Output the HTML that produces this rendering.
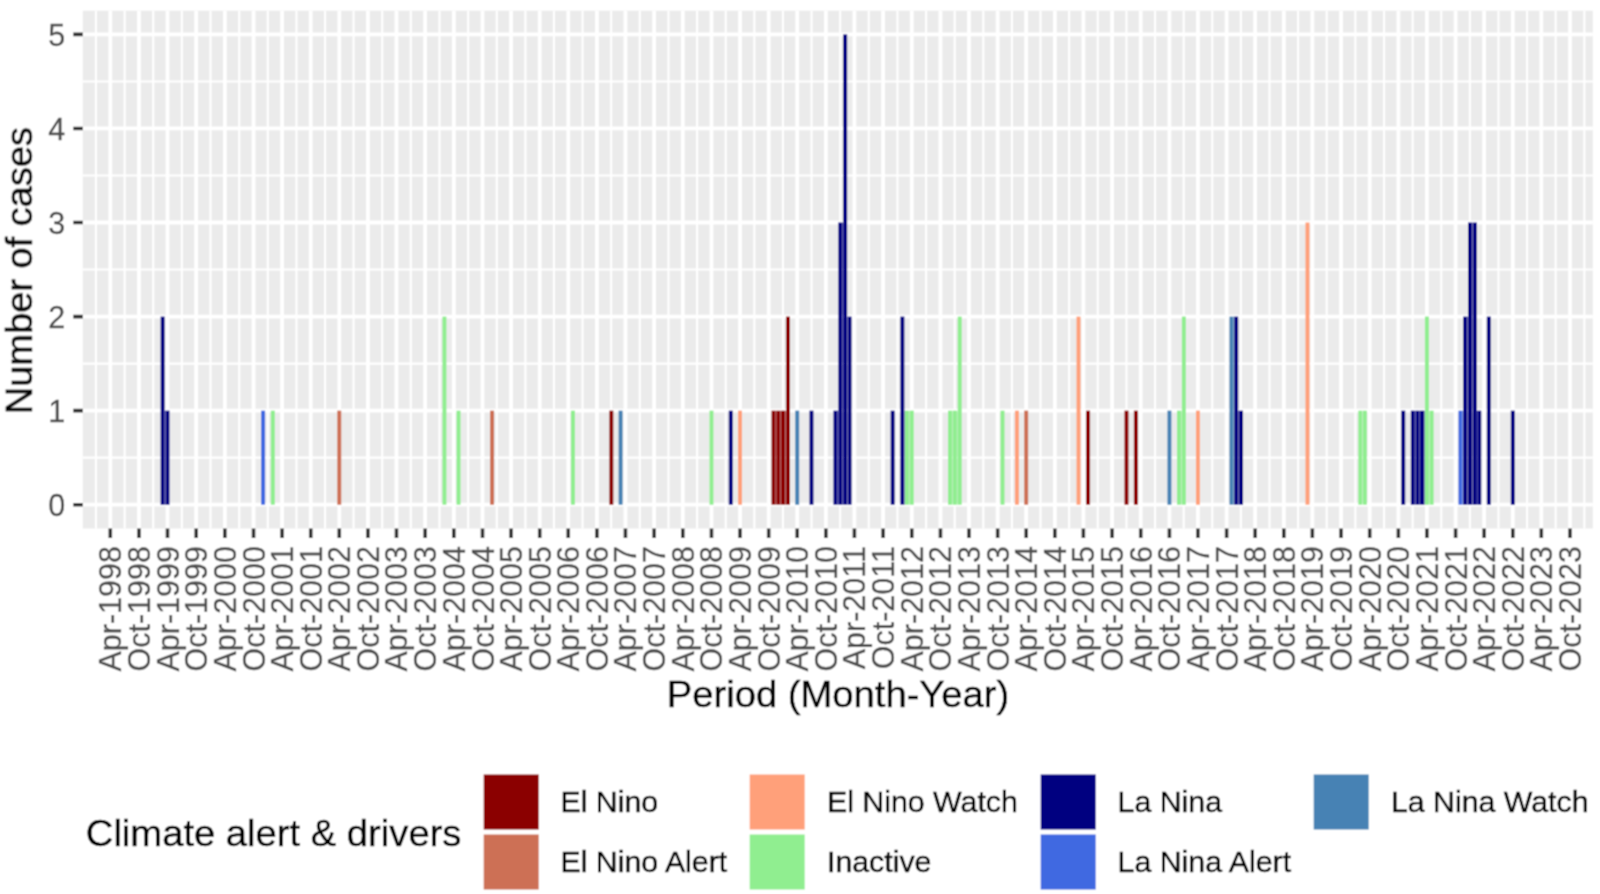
<!DOCTYPE html><html><head><meta charset="utf-8"><style>html,body{margin:0;padding:0;background:#fff;width:1600px;height:894px;overflow:hidden}svg{display:block}text{font-family:"Liberation Sans",sans-serif}</style></head><body>
<svg width="1600" height="894" viewBox="0 0 1600 894">
<defs><filter id="bl" x="0" y="0" width="1600" height="894" filterUnits="userSpaceOnUse"><feConvolveMatrix order="3" kernelMatrix="1 2 1 2 4 2 1 2 1" divisor="16" edgeMode="duplicate"/></filter></defs><g filter="url(#bl)">
<rect x="0" y="0" width="1600" height="894" fill="#fff"/>
<rect x="82.8" y="10.7" width="1510.00" height="517.80" fill="#EBEBEB"/>
<path d="M82.8 457.67H1592.8M82.8 363.61H1592.8M82.8 269.55H1592.8M82.8 175.49H1592.8M82.8 81.43H1592.8M95.96 10.7V528.5M124.64 10.7V528.5M153.24 10.7V528.5M181.84 10.7V528.5M210.52 10.7V528.5M239.20 10.7V528.5M267.80 10.7V528.5M296.41 10.7V528.5M325.01 10.7V528.5M353.61 10.7V528.5M382.21 10.7V528.5M410.81 10.7V528.5M439.49 10.7V528.5M468.17 10.7V528.5M496.77 10.7V528.5M525.38 10.7V528.5M553.98 10.7V528.5M582.58 10.7V528.5M611.18 10.7V528.5M639.78 10.7V528.5M668.46 10.7V528.5M697.14 10.7V528.5M725.74 10.7V528.5M754.35 10.7V528.5M782.95 10.7V528.5M811.55 10.7V528.5M840.15 10.7V528.5M868.75 10.7V528.5M897.43 10.7V528.5M926.11 10.7V528.5M954.71 10.7V528.5M983.31 10.7V528.5M1011.92 10.7V528.5M1040.52 10.7V528.5M1069.12 10.7V528.5M1097.72 10.7V528.5M1126.40 10.7V528.5M1155.08 10.7V528.5M1183.68 10.7V528.5M1212.28 10.7V528.5M1240.89 10.7V528.5M1269.49 10.7V528.5M1298.09 10.7V528.5M1326.69 10.7V528.5M1355.37 10.7V528.5M1384.05 10.7V528.5M1412.65 10.7V528.5M1441.25 10.7V528.5M1469.86 10.7V528.5M1498.46 10.7V528.5M1527.06 10.7V528.5M1555.66 10.7V528.5M1584.34 10.7V528.5" stroke="#fff" stroke-width="2.1" fill="none"/>
<path d="M82.8 504.70H1592.8M82.8 410.64H1592.8M82.8 316.58H1592.8M82.8 222.52H1592.8M82.8 128.46H1592.8M82.8 34.40H1592.8M110.30 10.7V528.5M138.98 10.7V528.5M167.50 10.7V528.5M196.18 10.7V528.5M224.86 10.7V528.5M253.54 10.7V528.5M282.07 10.7V528.5M310.75 10.7V528.5M339.27 10.7V528.5M367.95 10.7V528.5M396.47 10.7V528.5M425.15 10.7V528.5M453.83 10.7V528.5M482.51 10.7V528.5M511.04 10.7V528.5M539.72 10.7V528.5M568.24 10.7V528.5M596.92 10.7V528.5M625.44 10.7V528.5M654.12 10.7V528.5M682.80 10.7V528.5M711.48 10.7V528.5M740.01 10.7V528.5M768.69 10.7V528.5M797.21 10.7V528.5M825.89 10.7V528.5M854.41 10.7V528.5M883.09 10.7V528.5M911.77 10.7V528.5M940.45 10.7V528.5M968.97 10.7V528.5M997.65 10.7V528.5M1026.18 10.7V528.5M1054.86 10.7V528.5M1083.38 10.7V528.5M1112.06 10.7V528.5M1140.74 10.7V528.5M1169.42 10.7V528.5M1197.94 10.7V528.5M1226.62 10.7V528.5M1255.15 10.7V528.5M1283.83 10.7V528.5M1312.35 10.7V528.5M1341.03 10.7V528.5M1369.71 10.7V528.5M1398.39 10.7V528.5M1426.91 10.7V528.5M1455.59 10.7V528.5M1484.12 10.7V528.5M1512.80 10.7V528.5M1541.32 10.7V528.5M1570.00 10.7V528.5" stroke="#fff" stroke-width="3.8" fill="none"/>
<rect x="160.64" y="316.58" width="4.0" height="188.12" fill="#000080"/>
<rect x="164.84" y="410.64" width="0.46" height="94.06" fill="#000080"/>
<rect x="165.50" y="410.64" width="4.0" height="94.06" fill="#000080"/>
<rect x="261.10" y="410.64" width="4.0" height="94.06" fill="#4169E1"/>
<rect x="270.82" y="410.64" width="4.0" height="94.06" fill="#90EE90"/>
<rect x="337.27" y="410.64" width="4.0" height="94.06" fill="#CD7054"/>
<rect x="442.43" y="316.58" width="4.0" height="188.12" fill="#90EE90"/>
<rect x="456.53" y="410.64" width="4.0" height="94.06" fill="#90EE90"/>
<rect x="490.07" y="410.64" width="4.0" height="94.06" fill="#CD7054"/>
<rect x="570.94" y="410.64" width="4.0" height="94.06" fill="#90EE90"/>
<rect x="609.34" y="410.64" width="4.0" height="94.06" fill="#8B0000"/>
<rect x="618.58" y="410.64" width="4.0" height="94.06" fill="#4682B4"/>
<rect x="709.48" y="410.64" width="4.0" height="94.06" fill="#90EE90"/>
<rect x="728.76" y="410.64" width="4.0" height="94.06" fill="#000080"/>
<rect x="738.01" y="410.64" width="4.0" height="94.06" fill="#FFA07A"/>
<rect x="771.54" y="410.64" width="4.0" height="94.06" fill="#8B0000"/>
<rect x="775.74" y="410.64" width="0.30" height="94.06" fill="#8B0000"/>
<rect x="776.25" y="410.64" width="4.0" height="94.06" fill="#8B0000"/>
<rect x="780.45" y="410.64" width="0.46" height="94.06" fill="#8B0000"/>
<rect x="781.10" y="410.64" width="4.0" height="94.06" fill="#8B0000"/>
<rect x="785.30" y="410.64" width="0.46" height="94.06" fill="#8B0000"/>
<rect x="785.96" y="316.58" width="4.0" height="188.12" fill="#8B0000"/>
<rect x="795.21" y="410.64" width="4.0" height="94.06" fill="#4682B4"/>
<rect x="809.47" y="410.64" width="4.0" height="94.06" fill="#000080"/>
<rect x="833.45" y="410.64" width="4.0" height="94.06" fill="#000080"/>
<rect x="837.65" y="410.64" width="0.46" height="94.06" fill="#000080"/>
<rect x="838.31" y="222.52" width="4.0" height="282.18" fill="#000080"/>
<rect x="842.51" y="222.52" width="0.46" height="282.18" fill="#000080"/>
<rect x="843.17" y="34.40" width="4.0" height="470.30" fill="#000080"/>
<rect x="847.37" y="316.58" width="-0.01" height="188.12" fill="#000080"/>
<rect x="847.55" y="316.58" width="4.0" height="188.12" fill="#000080"/>
<rect x="890.65" y="410.64" width="4.0" height="94.06" fill="#000080"/>
<rect x="900.37" y="316.58" width="4.0" height="188.12" fill="#000080"/>
<rect x="904.57" y="410.64" width="0.14" height="94.06" fill="#000080"/>
<rect x="904.91" y="410.64" width="4.0" height="94.06" fill="#90EE90"/>
<rect x="909.11" y="410.64" width="0.46" height="94.06" fill="#90EE90"/>
<rect x="909.77" y="410.64" width="4.0" height="94.06" fill="#90EE90"/>
<rect x="948.01" y="410.64" width="4.0" height="94.06" fill="#90EE90"/>
<rect x="952.21" y="410.64" width="0.46" height="94.06" fill="#90EE90"/>
<rect x="952.87" y="410.64" width="4.0" height="94.06" fill="#90EE90"/>
<rect x="957.07" y="410.64" width="0.46" height="94.06" fill="#90EE90"/>
<rect x="957.73" y="316.58" width="4.0" height="188.12" fill="#90EE90"/>
<rect x="1000.51" y="410.64" width="4.0" height="94.06" fill="#90EE90"/>
<rect x="1014.93" y="410.64" width="4.0" height="94.06" fill="#FFA07A"/>
<rect x="1024.18" y="410.64" width="4.0" height="94.06" fill="#CD7054"/>
<rect x="1076.52" y="316.58" width="4.0" height="188.12" fill="#FFA07A"/>
<rect x="1086.08" y="410.64" width="4.0" height="94.06" fill="#8B0000"/>
<rect x="1124.48" y="410.64" width="4.0" height="94.06" fill="#8B0000"/>
<rect x="1133.88" y="410.64" width="4.0" height="94.06" fill="#8B0000"/>
<rect x="1167.42" y="410.64" width="4.0" height="94.06" fill="#4682B4"/>
<rect x="1176.98" y="410.64" width="4.0" height="94.06" fill="#90EE90"/>
<rect x="1181.18" y="410.64" width="0.46" height="94.06" fill="#90EE90"/>
<rect x="1181.84" y="316.58" width="4.0" height="188.12" fill="#90EE90"/>
<rect x="1195.94" y="410.64" width="4.0" height="94.06" fill="#FFA07A"/>
<rect x="1229.48" y="316.58" width="4.0" height="188.12" fill="#4682B4"/>
<rect x="1233.68" y="316.58" width="0.30" height="188.12" fill="#4682B4"/>
<rect x="1234.18" y="316.58" width="4.0" height="188.12" fill="#000080"/>
<rect x="1238.38" y="410.64" width="0.46" height="94.06" fill="#000080"/>
<rect x="1239.04" y="410.64" width="4.0" height="94.06" fill="#000080"/>
<rect x="1305.49" y="222.52" width="4.0" height="282.18" fill="#FFA07A"/>
<rect x="1358.31" y="410.64" width="4.0" height="94.06" fill="#90EE90"/>
<rect x="1362.51" y="410.64" width="0.14" height="94.06" fill="#90EE90"/>
<rect x="1362.85" y="410.64" width="4.0" height="94.06" fill="#90EE90"/>
<rect x="1401.25" y="410.64" width="4.0" height="94.06" fill="#000080"/>
<rect x="1410.81" y="410.64" width="4.0" height="94.06" fill="#000080"/>
<rect x="1415.01" y="410.64" width="0.46" height="94.06" fill="#000080"/>
<rect x="1415.67" y="410.64" width="4.0" height="94.06" fill="#000080"/>
<rect x="1419.87" y="410.64" width="-0.01" height="94.06" fill="#000080"/>
<rect x="1420.06" y="410.64" width="4.0" height="94.06" fill="#000080"/>
<rect x="1424.26" y="410.64" width="0.46" height="94.06" fill="#000080"/>
<rect x="1424.91" y="316.58" width="4.0" height="188.12" fill="#90EE90"/>
<rect x="1429.11" y="410.64" width="0.30" height="94.06" fill="#90EE90"/>
<rect x="1429.62" y="410.64" width="4.0" height="94.06" fill="#90EE90"/>
<rect x="1458.45" y="410.64" width="4.0" height="94.06" fill="#4169E1"/>
<rect x="1462.65" y="410.64" width="0.30" height="94.06" fill="#4169E1"/>
<rect x="1463.15" y="316.58" width="4.0" height="188.12" fill="#000080"/>
<rect x="1467.35" y="316.58" width="0.46" height="188.12" fill="#000080"/>
<rect x="1468.01" y="222.52" width="4.0" height="282.18" fill="#000080"/>
<rect x="1472.21" y="222.52" width="0.46" height="282.18" fill="#000080"/>
<rect x="1472.87" y="222.52" width="4.0" height="282.18" fill="#000080"/>
<rect x="1477.07" y="410.64" width="-0.01" height="94.06" fill="#000080"/>
<rect x="1477.26" y="410.64" width="4.0" height="94.06" fill="#000080"/>
<rect x="1486.82" y="316.58" width="4.0" height="188.12" fill="#000080"/>
<rect x="1510.80" y="410.64" width="4.0" height="94.06" fill="#000080"/>
<path d="M73.30 504.70H82.8M73.30 410.64H82.8M73.30 316.58H82.8M73.30 222.52H82.8M73.30 128.46H82.8M73.30 34.40H82.8M110.30 528.5V538.00M138.98 528.5V538.00M167.50 528.5V538.00M196.18 528.5V538.00M224.86 528.5V538.00M253.54 528.5V538.00M282.07 528.5V538.00M310.75 528.5V538.00M339.27 528.5V538.00M367.95 528.5V538.00M396.47 528.5V538.00M425.15 528.5V538.00M453.83 528.5V538.00M482.51 528.5V538.00M511.04 528.5V538.00M539.72 528.5V538.00M568.24 528.5V538.00M596.92 528.5V538.00M625.44 528.5V538.00M654.12 528.5V538.00M682.80 528.5V538.00M711.48 528.5V538.00M740.01 528.5V538.00M768.69 528.5V538.00M797.21 528.5V538.00M825.89 528.5V538.00M854.41 528.5V538.00M883.09 528.5V538.00M911.77 528.5V538.00M940.45 528.5V538.00M968.97 528.5V538.00M997.65 528.5V538.00M1026.18 528.5V538.00M1054.86 528.5V538.00M1083.38 528.5V538.00M1112.06 528.5V538.00M1140.74 528.5V538.00M1169.42 528.5V538.00M1197.94 528.5V538.00M1226.62 528.5V538.00M1255.15 528.5V538.00M1283.83 528.5V538.00M1312.35 528.5V538.00M1341.03 528.5V538.00M1369.71 528.5V538.00M1398.39 528.5V538.00M1426.91 528.5V538.00M1455.59 528.5V538.00M1484.12 528.5V538.00M1512.80 528.5V538.00M1541.32 528.5V538.00M1570.00 528.5V538.00" stroke="#333" stroke-width="3.6" fill="none"/>
<text transform="translate(65.2,515.90) scale(1,1.035)" font-size="30.5" fill="#4D4D4D" stroke="#4D4D4D" stroke-width="0.25" text-anchor="end">0</text>
<text transform="translate(65.2,421.84) scale(1,1.035)" font-size="30.5" fill="#4D4D4D" stroke="#4D4D4D" stroke-width="0.25" text-anchor="end">1</text>
<text transform="translate(65.2,327.78) scale(1,1.035)" font-size="30.5" fill="#4D4D4D" stroke="#4D4D4D" stroke-width="0.25" text-anchor="end">2</text>
<text transform="translate(65.2,233.72) scale(1,1.035)" font-size="30.5" fill="#4D4D4D" stroke="#4D4D4D" stroke-width="0.25" text-anchor="end">3</text>
<text transform="translate(65.2,139.66) scale(1,1.035)" font-size="30.5" fill="#4D4D4D" stroke="#4D4D4D" stroke-width="0.25" text-anchor="end">4</text>
<text transform="translate(65.2,45.60) scale(1,1.035)" font-size="30.5" fill="#4D4D4D" stroke="#4D4D4D" stroke-width="0.25" text-anchor="end">5</text>
<text transform="translate(121.30,546.1) rotate(-90) scale(1,1.035)" font-size="30.5" fill="#4D4D4D" stroke="#4D4D4D" stroke-width="0.25" text-anchor="end">Apr-1998</text>
<text transform="translate(149.98,546.1) rotate(-90) scale(1,1.035)" font-size="30.5" fill="#4D4D4D" stroke="#4D4D4D" stroke-width="0.25" text-anchor="end">Oct-1998</text>
<text transform="translate(178.50,546.1) rotate(-90) scale(1,1.035)" font-size="30.5" fill="#4D4D4D" stroke="#4D4D4D" stroke-width="0.25" text-anchor="end">Apr-1999</text>
<text transform="translate(207.18,546.1) rotate(-90) scale(1,1.035)" font-size="30.5" fill="#4D4D4D" stroke="#4D4D4D" stroke-width="0.25" text-anchor="end">Oct-1999</text>
<text transform="translate(235.86,546.1) rotate(-90) scale(1,1.035)" font-size="30.5" fill="#4D4D4D" stroke="#4D4D4D" stroke-width="0.25" text-anchor="end">Apr-2000</text>
<text transform="translate(264.54,546.1) rotate(-90) scale(1,1.035)" font-size="30.5" fill="#4D4D4D" stroke="#4D4D4D" stroke-width="0.25" text-anchor="end">Oct-2000</text>
<text transform="translate(293.07,546.1) rotate(-90) scale(1,1.035)" font-size="30.5" fill="#4D4D4D" stroke="#4D4D4D" stroke-width="0.25" text-anchor="end">Apr-2001</text>
<text transform="translate(321.75,546.1) rotate(-90) scale(1,1.035)" font-size="30.5" fill="#4D4D4D" stroke="#4D4D4D" stroke-width="0.25" text-anchor="end">Oct-2001</text>
<text transform="translate(350.27,546.1) rotate(-90) scale(1,1.035)" font-size="30.5" fill="#4D4D4D" stroke="#4D4D4D" stroke-width="0.25" text-anchor="end">Apr-2002</text>
<text transform="translate(378.95,546.1) rotate(-90) scale(1,1.035)" font-size="30.5" fill="#4D4D4D" stroke="#4D4D4D" stroke-width="0.25" text-anchor="end">Oct-2002</text>
<text transform="translate(407.47,546.1) rotate(-90) scale(1,1.035)" font-size="30.5" fill="#4D4D4D" stroke="#4D4D4D" stroke-width="0.25" text-anchor="end">Apr-2003</text>
<text transform="translate(436.15,546.1) rotate(-90) scale(1,1.035)" font-size="30.5" fill="#4D4D4D" stroke="#4D4D4D" stroke-width="0.25" text-anchor="end">Oct-2003</text>
<text transform="translate(464.83,546.1) rotate(-90) scale(1,1.035)" font-size="30.5" fill="#4D4D4D" stroke="#4D4D4D" stroke-width="0.25" text-anchor="end">Apr-2004</text>
<text transform="translate(493.51,546.1) rotate(-90) scale(1,1.035)" font-size="30.5" fill="#4D4D4D" stroke="#4D4D4D" stroke-width="0.25" text-anchor="end">Oct-2004</text>
<text transform="translate(522.04,546.1) rotate(-90) scale(1,1.035)" font-size="30.5" fill="#4D4D4D" stroke="#4D4D4D" stroke-width="0.25" text-anchor="end">Apr-2005</text>
<text transform="translate(550.72,546.1) rotate(-90) scale(1,1.035)" font-size="30.5" fill="#4D4D4D" stroke="#4D4D4D" stroke-width="0.25" text-anchor="end">Oct-2005</text>
<text transform="translate(579.24,546.1) rotate(-90) scale(1,1.035)" font-size="30.5" fill="#4D4D4D" stroke="#4D4D4D" stroke-width="0.25" text-anchor="end">Apr-2006</text>
<text transform="translate(607.92,546.1) rotate(-90) scale(1,1.035)" font-size="30.5" fill="#4D4D4D" stroke="#4D4D4D" stroke-width="0.25" text-anchor="end">Oct-2006</text>
<text transform="translate(636.44,546.1) rotate(-90) scale(1,1.035)" font-size="30.5" fill="#4D4D4D" stroke="#4D4D4D" stroke-width="0.25" text-anchor="end">Apr-2007</text>
<text transform="translate(665.12,546.1) rotate(-90) scale(1,1.035)" font-size="30.5" fill="#4D4D4D" stroke="#4D4D4D" stroke-width="0.25" text-anchor="end">Oct-2007</text>
<text transform="translate(693.80,546.1) rotate(-90) scale(1,1.035)" font-size="30.5" fill="#4D4D4D" stroke="#4D4D4D" stroke-width="0.25" text-anchor="end">Apr-2008</text>
<text transform="translate(722.48,546.1) rotate(-90) scale(1,1.035)" font-size="30.5" fill="#4D4D4D" stroke="#4D4D4D" stroke-width="0.25" text-anchor="end">Oct-2008</text>
<text transform="translate(751.01,546.1) rotate(-90) scale(1,1.035)" font-size="30.5" fill="#4D4D4D" stroke="#4D4D4D" stroke-width="0.25" text-anchor="end">Apr-2009</text>
<text transform="translate(779.69,546.1) rotate(-90) scale(1,1.035)" font-size="30.5" fill="#4D4D4D" stroke="#4D4D4D" stroke-width="0.25" text-anchor="end">Oct-2009</text>
<text transform="translate(808.21,546.1) rotate(-90) scale(1,1.035)" font-size="30.5" fill="#4D4D4D" stroke="#4D4D4D" stroke-width="0.25" text-anchor="end">Apr-2010</text>
<text transform="translate(836.89,546.1) rotate(-90) scale(1,1.035)" font-size="30.5" fill="#4D4D4D" stroke="#4D4D4D" stroke-width="0.25" text-anchor="end">Oct-2010</text>
<text transform="translate(865.41,546.1) rotate(-90) scale(1,1.035)" font-size="30.5" fill="#4D4D4D" stroke="#4D4D4D" stroke-width="0.25" text-anchor="end">Apr-2011</text>
<text transform="translate(894.09,546.1) rotate(-90) scale(1,1.035)" font-size="30.5" fill="#4D4D4D" stroke="#4D4D4D" stroke-width="0.25" text-anchor="end">Oct-2011</text>
<text transform="translate(922.77,546.1) rotate(-90) scale(1,1.035)" font-size="30.5" fill="#4D4D4D" stroke="#4D4D4D" stroke-width="0.25" text-anchor="end">Apr-2012</text>
<text transform="translate(951.45,546.1) rotate(-90) scale(1,1.035)" font-size="30.5" fill="#4D4D4D" stroke="#4D4D4D" stroke-width="0.25" text-anchor="end">Oct-2012</text>
<text transform="translate(979.97,546.1) rotate(-90) scale(1,1.035)" font-size="30.5" fill="#4D4D4D" stroke="#4D4D4D" stroke-width="0.25" text-anchor="end">Apr-2013</text>
<text transform="translate(1008.65,546.1) rotate(-90) scale(1,1.035)" font-size="30.5" fill="#4D4D4D" stroke="#4D4D4D" stroke-width="0.25" text-anchor="end">Oct-2013</text>
<text transform="translate(1037.18,546.1) rotate(-90) scale(1,1.035)" font-size="30.5" fill="#4D4D4D" stroke="#4D4D4D" stroke-width="0.25" text-anchor="end">Apr-2014</text>
<text transform="translate(1065.86,546.1) rotate(-90) scale(1,1.035)" font-size="30.5" fill="#4D4D4D" stroke="#4D4D4D" stroke-width="0.25" text-anchor="end">Oct-2014</text>
<text transform="translate(1094.38,546.1) rotate(-90) scale(1,1.035)" font-size="30.5" fill="#4D4D4D" stroke="#4D4D4D" stroke-width="0.25" text-anchor="end">Apr-2015</text>
<text transform="translate(1123.06,546.1) rotate(-90) scale(1,1.035)" font-size="30.5" fill="#4D4D4D" stroke="#4D4D4D" stroke-width="0.25" text-anchor="end">Oct-2015</text>
<text transform="translate(1151.74,546.1) rotate(-90) scale(1,1.035)" font-size="30.5" fill="#4D4D4D" stroke="#4D4D4D" stroke-width="0.25" text-anchor="end">Apr-2016</text>
<text transform="translate(1180.42,546.1) rotate(-90) scale(1,1.035)" font-size="30.5" fill="#4D4D4D" stroke="#4D4D4D" stroke-width="0.25" text-anchor="end">Oct-2016</text>
<text transform="translate(1208.94,546.1) rotate(-90) scale(1,1.035)" font-size="30.5" fill="#4D4D4D" stroke="#4D4D4D" stroke-width="0.25" text-anchor="end">Apr-2017</text>
<text transform="translate(1237.62,546.1) rotate(-90) scale(1,1.035)" font-size="30.5" fill="#4D4D4D" stroke="#4D4D4D" stroke-width="0.25" text-anchor="end">Oct-2017</text>
<text transform="translate(1266.15,546.1) rotate(-90) scale(1,1.035)" font-size="30.5" fill="#4D4D4D" stroke="#4D4D4D" stroke-width="0.25" text-anchor="end">Apr-2018</text>
<text transform="translate(1294.83,546.1) rotate(-90) scale(1,1.035)" font-size="30.5" fill="#4D4D4D" stroke="#4D4D4D" stroke-width="0.25" text-anchor="end">Oct-2018</text>
<text transform="translate(1323.35,546.1) rotate(-90) scale(1,1.035)" font-size="30.5" fill="#4D4D4D" stroke="#4D4D4D" stroke-width="0.25" text-anchor="end">Apr-2019</text>
<text transform="translate(1352.03,546.1) rotate(-90) scale(1,1.035)" font-size="30.5" fill="#4D4D4D" stroke="#4D4D4D" stroke-width="0.25" text-anchor="end">Oct-2019</text>
<text transform="translate(1380.71,546.1) rotate(-90) scale(1,1.035)" font-size="30.5" fill="#4D4D4D" stroke="#4D4D4D" stroke-width="0.25" text-anchor="end">Apr-2020</text>
<text transform="translate(1409.39,546.1) rotate(-90) scale(1,1.035)" font-size="30.5" fill="#4D4D4D" stroke="#4D4D4D" stroke-width="0.25" text-anchor="end">Oct-2020</text>
<text transform="translate(1437.91,546.1) rotate(-90) scale(1,1.035)" font-size="30.5" fill="#4D4D4D" stroke="#4D4D4D" stroke-width="0.25" text-anchor="end">Apr-2021</text>
<text transform="translate(1466.59,546.1) rotate(-90) scale(1,1.035)" font-size="30.5" fill="#4D4D4D" stroke="#4D4D4D" stroke-width="0.25" text-anchor="end">Oct-2021</text>
<text transform="translate(1495.12,546.1) rotate(-90) scale(1,1.035)" font-size="30.5" fill="#4D4D4D" stroke="#4D4D4D" stroke-width="0.25" text-anchor="end">Apr-2022</text>
<text transform="translate(1523.80,546.1) rotate(-90) scale(1,1.035)" font-size="30.5" fill="#4D4D4D" stroke="#4D4D4D" stroke-width="0.25" text-anchor="end">Oct-2022</text>
<text transform="translate(1552.32,546.1) rotate(-90) scale(1,1.035)" font-size="30.5" fill="#4D4D4D" stroke="#4D4D4D" stroke-width="0.25" text-anchor="end">Apr-2023</text>
<text transform="translate(1581.00,546.1) rotate(-90) scale(1,1.035)" font-size="30.5" fill="#4D4D4D" stroke="#4D4D4D" stroke-width="0.25" text-anchor="end">Oct-2023</text>
<text transform="translate(838.0,707.2) scale(1,0.975)" font-size="38.2" fill="#000" stroke="#000" stroke-width="0.45" text-anchor="middle">Period (Month-Year)</text>
<text transform="translate(32.0,270.6) rotate(-90) scale(1,0.975)" font-size="38.0" fill="#000" stroke="#000" stroke-width="0.45" text-anchor="middle">Number of cases</text>
<text transform="translate(85.8,845.5) scale(1,0.975)" font-size="38.2" fill="#000" stroke="#000" stroke-width="0.45">Climate alert &amp; drivers</text>
<rect x="483.7" y="774.5" width="55" height="55" fill="#8B0000"/>
<text transform="translate(560.5,812.3) scale(1,1.0)" font-size="30.3" fill="#000" stroke="#000" stroke-width="0.45">El Nino</text>
<rect x="483.7" y="834.5" width="55" height="55" fill="#CD7054"/>
<text transform="translate(560.5,872.3) scale(1,1.0)" font-size="30.3" fill="#000" stroke="#000" stroke-width="0.45">El Nino Alert</text>
<rect x="749.7" y="774.5" width="55" height="55" fill="#FFA07A"/>
<text transform="translate(827.0,812.3) scale(1,1.0)" font-size="30.3" fill="#000" stroke="#000" stroke-width="0.45">El Nino Watch</text>
<rect x="749.7" y="834.5" width="55" height="55" fill="#90EE90"/>
<text transform="translate(827.0,872.3) scale(1,1.0)" font-size="30.3" fill="#000" stroke="#000" stroke-width="0.45">Inactive</text>
<rect x="1040.7" y="774.5" width="55" height="55" fill="#000080"/>
<text transform="translate(1117.6,812.3) scale(1,1.0)" font-size="30.3" fill="#000" stroke="#000" stroke-width="0.45">La Nina</text>
<rect x="1040.7" y="834.5" width="55" height="55" fill="#4169E1"/>
<text transform="translate(1117.6,872.3) scale(1,1.0)" font-size="30.3" fill="#000" stroke="#000" stroke-width="0.45">La Nina Alert</text>
<rect x="1313.7" y="774.5" width="55" height="55" fill="#4682B4"/>
<text transform="translate(1390.9,812.3) scale(1,1.0)" font-size="30.3" fill="#000" stroke="#000" stroke-width="0.45">La Nina Watch</text>
</g></svg></body></html>
